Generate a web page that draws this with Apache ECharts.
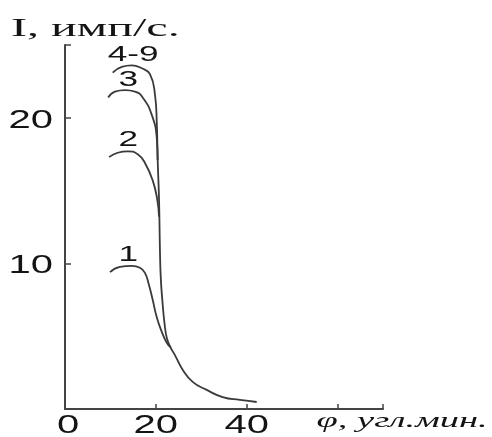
<!DOCTYPE html>
<html>
<head>
<meta charset="utf-8">
<script src="https://cdn.jsdelivr.net/npm/echarts@6/dist/echarts.min.js"></script>
<style>
  html, body { margin: 0; padding: 0; background: #ffffff; }
  #chart { width: 492px; height: 437px; }
</style>
</head>
<body>
<div id="chart"></div>
<script>
// Rocking-curve intensity I (imp/s) versus angle φ (arc minutes)
const curve49 = [
  [10.5, 23.1], [12.5, 23.5], [14.7, 23.6], [16.9, 23.4], [18.7, 23.0],
  [19.8, 21.6], [20.2, 19.7], [20.4, 17.1], [20.7, 14.4], [20.9, 10.9],
  [21.1, 8.9], [21.5, 7.2], [21.9, 5.9], [22.4, 4.9], [23.2, 4.25],
  [24.2, 3.7], [25.9, 2.7], [28.1, 1.86], [31.2, 1.31], [34.7, 0.82],
  [38.5, 0.62], [42.2, 0.48]
];
const curve3 = [
  [9.5, 21.4], [11.0, 21.8], [13.2, 21.9], [15.4, 21.8], [17.1, 21.4],
  [19.1, 20.2], [20.2, 18.6], [20.4, 17.1]
];
const curve2 = [
  [9.7, 17.3], [11.6, 17.6], [13.8, 17.7], [16.0, 17.5], [17.6, 16.9],
  [19.3, 15.7], [20.3, 14.4], [20.7, 13.2]
];
const curve1 = [
  [9.9, 9.4], [12.1, 9.76], [14.7, 9.83], [16.5, 9.7], [17.6, 9.35],
  [18.5, 8.5], [19.3, 7.5], [20.2, 6.3], [21.3, 5.3], [22.4, 4.55], [23.2, 4.25]
];
// curve numbers placed above each maximum
const curveLabels = [
  [15.0, 24.35, '4-9'],
  [13.95, 22.6, '3'],
  [13.95, 18.5, '2'],
  [13.95, 10.6, '1']
];
const xTicks = [0, 20, 40];
const yTicks = [10, 20];
const yName = 'I, имп/с.';
const xName = 'φ, угл.мин.';

const lineColor = '#3a3a3a';
const axisColor = '#444444';
const textColor = '#141414';
const wide = 1.6; // the lettering of this plot is drawn horizontally widened

function curve(data) {
  return {
    type: 'line',
    data: data,
    smooth: 0.5,
    showSymbol: false,
    lineStyle: { color: lineColor, width: 1.8 },
    silent: true
  };
}

const chart = echarts.init(document.getElementById('chart'), null, { renderer: 'canvas' });
chart.setOption({
  animation: false,
  backgroundColor: '#ffffff',
  grid: { left: 65, right: 109, top: 45, bottom: 28, containLabel: false },
  xAxis: {
    type: 'value', min: 0, max: 70, interval: 20,
    axisLine: { show: true, lineStyle: { color: axisColor, width: 2 } },
    axisTick: { show: true, inside: true, length: 5, lineStyle: { color: axisColor, width: 1.5 } },
    splitLine: { show: false },
    axisLabel: { show: false }
  },
  yAxis: {
    type: 'value', min: 0, max: 25, interval: 10,
    axisLine: { show: true, onZero: false, lineStyle: { color: axisColor, width: 2 } },
    axisTick: { show: true, inside: true, length: 6, lineStyle: { color: axisColor, width: 1.5 } },
    splitLine: { show: false },
    axisLabel: { show: false }
  },
  series: [curve(curve49), curve(curve3), curve(curve2), curve(curve1)]
});

// widened lettering: tick labels, curve numbers and axis names
function wideText(x, y, text, font, align, scale) {
  return {
    type: 'text', x: x, y: y, scaleX: scale, silent: true,
    style: { x: 0, y: 0, text: text, font: font, fill: textColor, align: align, verticalAlign: 'middle' }
  };
}
const toPx = p => chart.convertToPixel({ gridIndex: 0 }, p);
const tickFont = '25px "Liberation Sans"';
const graphics = [];
yTicks.forEach(v => {
  const p = toPx([0, v]);
  graphics.push(wideText(p[0] - 12, p[1] + 3, String(v), tickFont, 'right', wide));
});
xTicks.forEach(v => {
  const p = toPx([v, 0]);
  graphics.push(wideText(p[0] + (v === 0 ? 3 : 0), p[1] + 17, String(v), tickFont, 'center', wide));
});
curveLabels.forEach(c => {
  const p = toPx([c[0], c[1]]);
  graphics.push(wideText(p[0], p[1], c[2], '22px "Liberation Sans"', 'center', wide));
});
const yAxisTop = toPx([0, 25]);
graphics.push(wideText(11, yAxisTop[1] - 16, yName, '26px "Liberation Serif"', 'left', 1.85));
const xNameAt = toPx([60, 0]);
graphics.push(wideText(xNameAt[0] - 21, xNameAt[1] + 12, xName, 'italic 22px "Liberation Serif"', 'left', 1.75));
chart.setOption({ graphic: graphics });
</script>
</body>
</html>
